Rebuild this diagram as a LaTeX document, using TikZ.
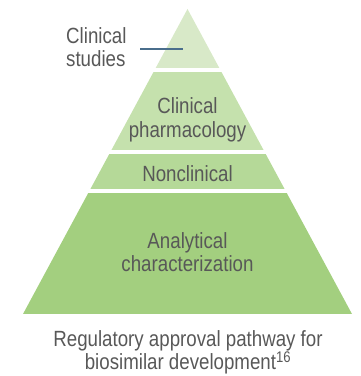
\documentclass[tikz,border=0pt]{standalone}
\usepackage{fontspec}
\setmainfont[FakeStretch=0.85]{Liberation Sans}
\definecolor{bandA}{RGB}{216,233,200}
\definecolor{bandB}{RGB}{197,225,173}
\definecolor{bandC}{RGB}{181,217,152}
\definecolor{bandD}{RGB}{163,207,127}
\definecolor{txt}{RGB}{88,88,88}
\definecolor{leader}{RGB}{74,110,140}
\begin{document}
\begin{tikzpicture}[x=1pt,y=1pt,
  lbl/.style={text=txt,font=\fontsize{22}{24}\selectfont,inner sep=0pt,anchor=base,align=center}]
\useasboundingbox (0,0) rectangle (360,376);
\begin{scope}
  \clip (187.5,367) -- (352,62) -- (23,62) -- cycle;
  \fill[bandA] (0,308) rectangle (360,376);
  \fill[bandB] (0,226) rectangle (360,304);
  \fill[bandC] (0,187) rectangle (360,222);
  \fill[bandD] (0,62) rectangle (360,183);
\end{scope}
\node[lbl,align=left,anchor=base west] (cs) at (66,309) {Clinical\\studies};
\coordinate (l0) at (140,327);
\coordinate (l1) at (183,327);
\draw[leader,line width=1.6pt] (l0) -- (l1);
\node[lbl] (cp) at (187.5,239) {Clinical\\pharmacology};
\node[lbl] (nc) at (187.5,194) {Nonclinical};
\node[lbl] (ac) at (187.5,104) {Analytical\\characterization};
\node[lbl] (cap) at (188,6) {Regulatory approval pathway for\\biosimilar development\textsuperscript{16}};
\end{tikzpicture}
\end{document}
